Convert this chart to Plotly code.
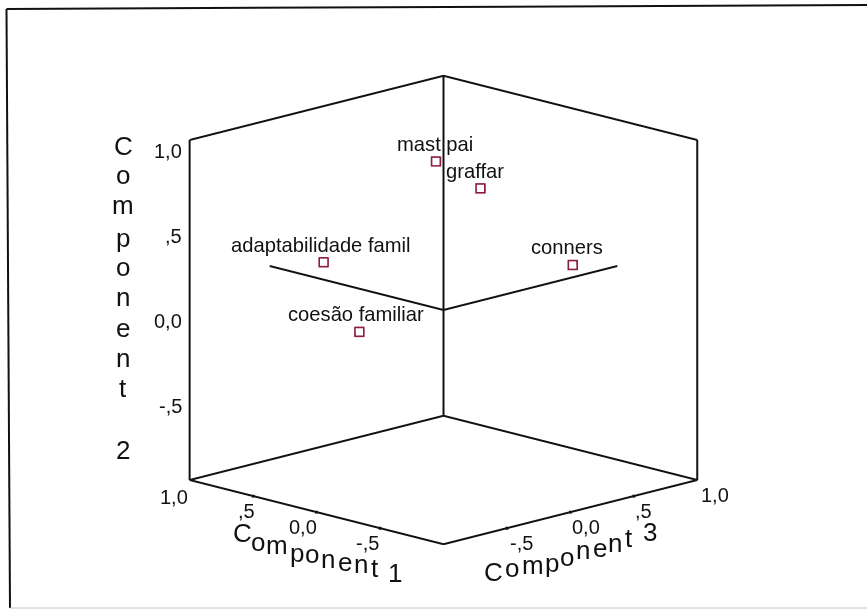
"""
Factor plot in rotated component space (SPSS style 3D scatter)
"""
import plotly.graph_objects as go

W, H = 867, 610

labels = ['mast pai', 'graffar', 'adaptabilidade famil', 'conners', 'coesão familiar']
comp1 = [0.05, -0.10, 0.90, -0.05, 0.75]
comp2 = [0.867, 0.699, 0.12, 0.092, -0.286]
comp3 = [-0.011, 0.19, -0.046, 0.967, 0.086]

tick_values = [1.0, 0.5, 0.0, -0.5]
tick_labels = ['1,0', ',5', '0,0', '-,5']
axis_end = 1.37

DARK_RED = '#8e1b40'
BLACK = '#111111'
FONT = 'Liberation Sans'


def edge(x, y, z, width=4):
    return go.Scatter3d(x=x, y=y, z=z, mode='lines', hoverinfo='skip',
                        line=dict(color=BLACK, width=width), showlegend=False)


fig = go.Figure()

# scene x = component 3, y = component 1, z = component 2
# box walls: floor edges, then verticals, then top edges
fig.add_trace(edge([-1, 1, 1, -1, -1], [-1, -1, 1, 1, -1], [-1, -1, -1, -1, -1]))
fig.add_trace(edge([-1, -1], [1, 1], [-1, 1]))
fig.add_trace(edge([1, 1], [1, 1], [-1, 1]))
fig.add_trace(edge([1, 1], [-1, -1], [-1, 1]))
fig.add_trace(edge([-1, 1, 1], [1, 1, -1], [1, 1, 1]))

# axis lines from the origin
fig.add_trace(edge([axis_end, 0, 0], [0, 0, axis_end], [0, 0, 0]))

# tick blobs on floor edges
fig.add_trace(go.Scatter3d(x=[-1] * 3 + [-0.5, 0, 0.5], y=[0.5, 0, -0.5] + [-1] * 3, z=[-1] * 6,
                           mode='markers', hoverinfo='skip', showlegend=False,
                           marker=dict(size=1.5, color=BLACK, symbol='square')))

# open squares drawn twice, gl3d keeps the stroke thin otherwise
for size in [4.2, 3.7]:
    fig.add_trace(go.Scatter3d(x=comp3, y=comp1, z=comp2, mode='markers', showlegend=False,
                               text=labels, hoverinfo='text',
                               marker=dict(size=size, symbol='square-open', color=DARK_RED,
                                           line=dict(color=DARK_RED, width=2))))

notes = []
# labels sit a bit off-centre over their markers, as in the source plot
for name, a, b, c, dx in zip(labels, comp3, comp1, comp2, [-1, -5, -2, -6, -3.5]):
    notes.append(dict(x=a, y=b, z=c, text=name, showarrow=False, xshift=dx, yshift=17.5,
                      font=dict(family=FONT, size=20.2, color=BLACK)))

# component 2 ticks on the left edge
for v, t in zip(tick_values, tick_labels):
    notes.append(dict(x=-1, y=1, z=v, text=t, showarrow=False, xanchor='right', xshift=-6, yshift=-11,
                      font=dict(family=FONT, size=20, color=BLACK)))

# component 1 ticks along the left floor edge
for v, t, dx, dy in zip(tick_values, tick_labels, [-16, -7, -14, -13], [-17, -15, -15, -15]):
    notes.append(dict(x=-1, y=v, z=-1, text=t, showarrow=False, xshift=dx, yshift=dy,
                      font=dict(family=FONT, size=20, color=BLACK)))

# component 3 ticks along the right floor edge
for v, t, dx in zip(tick_values, tick_labels, [18, 10, 16, 15]):
    notes.append(dict(x=v, y=-1, z=-1, text=t, showarrow=False, xshift=dx, yshift=-15,
                      font=dict(family=FONT, size=20, color=BLACK)))

fig.update_layout(
    width=W, height=H,
    margin=dict(l=0, r=0, t=0, b=0),
    paper_bgcolor='white',
    showlegend=False,
    scene=dict(
        domain=dict(x=[20 / W, 1], y=[0, 1 - 10 / H]),
        xaxis=dict(range=[-1.4, 1.4], visible=False),
        yaxis=dict(range=[-1.4, 1.4], visible=False),
        zaxis=dict(range=[-1.4, 1.4], visible=False),
        aspectmode='manual',
        aspectratio=dict(x=1.675, y=1.675, z=1.64),
        camera=dict(projection=dict(type='orthographic'),
                    eye=dict(x=-1.0, y=-1.0, z=0.37),
                    center=dict(x=0, y=0, z=0)),
        annotations=notes,
    ),
    shapes=[
        dict(type='line', xref='paper', yref='paper', x0=6.5 / W, x1=10 / W, y0=1 - 9 / H, y1=1 - 608 / H,
             line=dict(color=BLACK, width=2)),
        dict(type='line', xref='paper', yref='paper', x0=6.5 / W, x1=1, y0=1 - 9 / H, y1=1 - 5 / H,
             line=dict(color=BLACK, width=2)),
        dict(type='line', xref='paper', yref='paper', x0=10 / W, x1=1, y0=1 - 608 / H, y1=1 - 608 / H,
             line=dict(color='#c4c4c4', width=1)),
    ],
)

# stepped axis titles, one letter at a time
title1 = list('Component') + ['1']
title1_x = [242, 258, 277, 297, 312, 328, 345, 361, 375, 395]
title1_y = [533, 542, 545, 553, 554, 559, 562, 564, 568, 573]
title3 = list('Component') + ['3']
title3_x = [493, 512, 533, 552, 567, 583, 600, 615, 629, 650]
title3_y = [572, 568, 565, 563, 557, 550, 548, 543, 538, 532]
title2 = list('Component') + ['2']
title2_x = [123] * 10
title2_y = [146, 175, 205, 238, 267, 297, 328, 358, 388, 450]

for letters, xs, ys in [(title1, title1_x, title1_y), (title3, title3_x, title3_y), (title2, title2_x, title2_y)]:
    for ch, px, py in zip(letters, xs, ys):
        fig.add_annotation(x=px / W, y=1 - py / H, xref='paper', yref='paper', text=ch, showarrow=False,
                           xanchor='center', yanchor='middle', font=dict(family=FONT, size=26, color=BLACK))

# the page's default body margin would push the figure 8px off
fig.write_html("out.html", config={"displayModeBar": False}, post_script="document.body.style.margin = '0';")
